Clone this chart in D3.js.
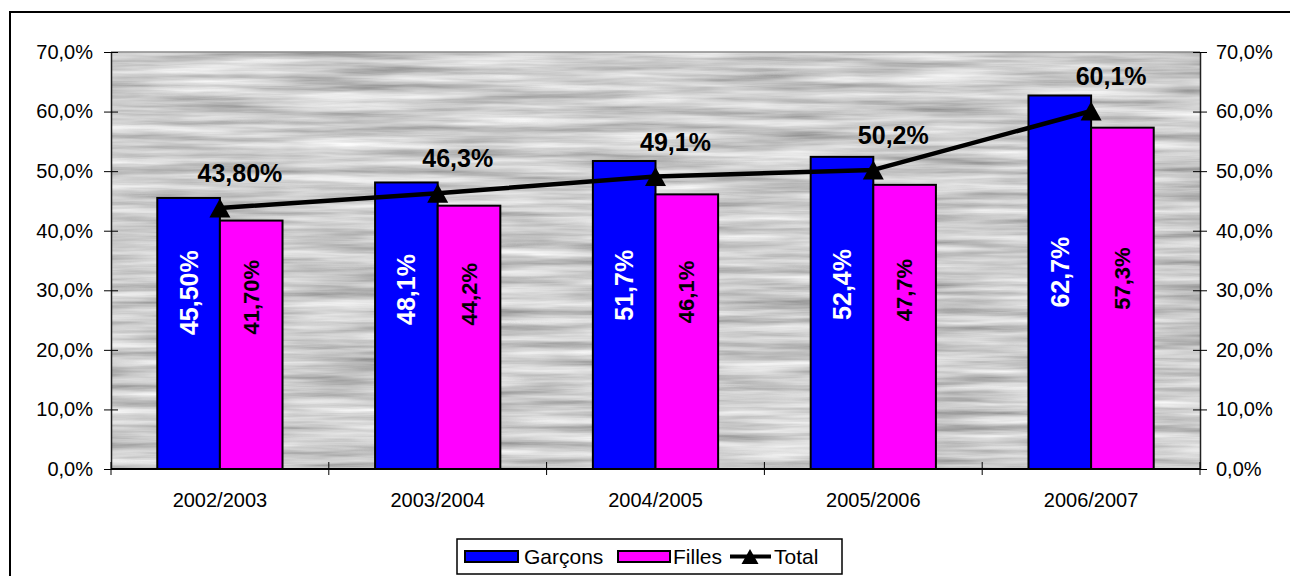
<!DOCTYPE html>
<html>
<head>
<meta charset="utf-8">
<script src="https://cdn.jsdelivr.net/npm/d3@7"></script>
<style>
  html, body { margin: 0; padding: 0; background: #fff; }
  svg { display: block; font-family: Arial, "Liberation Sans", sans-serif; }
</style>
</head>
<body>
<svg id="chart" width="1290" height="576"></svg>
<script>
// ---- data ----
const categories = ["2002/2003", "2003/2004", "2004/2005", "2005/2006", "2006/2007"];
const garcons = [45.5, 48.1, 51.7, 52.4, 62.7];
const filles = [41.7, 44.2, 46.1, 47.7, 57.3];
const total = [43.8, 46.3, 49.1, 50.2, 60.1];
const garconsLabels = ["45,50%", "48,1%", "51,7%", "52,4%", "62,7%"];
const fillesLabels = ["41,70%", "44,2%", "46,1%", "47,7%", "57,3%"];
const totalLabels = ["43,80%", "46,3%", "49,1%", "50,2%", "60,1%"];
const yTicks = [0, 10, 20, 30, 40, 50, 60, 70];
const yTickLabels = ["0,0%", "10,0%", "20,0%", "30,0%", "40,0%", "50,0%", "60,0%", "70,0%"];
const seriesNames = ["Garçons", "Filles", "Total"];

// ---- layout ----
const svg = d3.select("#chart");
const plot = { left: 111, right: 1200, top: 52, bottom: 469 };
const BLUE = "#0000ff", PINK = "#ff00ff";

// outer frame
svg.append("rect").attr("x", 10).attr("y", 12).attr("width", 1300).attr("height", 600)
  .attr("fill", "none").attr("stroke", "#000").attr("stroke-width", 2);

// texture filter for plot background
const defs = svg.append("defs");
const f = defs.append("filter").attr("id", "wood").attr("x", 0).attr("y", 0)
  .attr("width", "100%").attr("height", "100%");
f.append("feTurbulence").attr("type", "fractalNoise")
  .attr("baseFrequency", "0.007 0.12").attr("numOctaves", 4).attr("seed", 11).attr("result", "noise");
f.append("feColorMatrix").attr("in", "noise").attr("type", "matrix")
  .attr("values", "0.85 0 0 0 0.19  0.85 0 0 0 0.19  0.85 0 0 0 0.19  0 0 0 0 1");

const x = d3.scaleBand().domain(categories).range([plot.left, plot.right]);
const y = d3.scaleLinear().domain([0, 70]).range([plot.bottom, plot.top]);
const barW = x.bandwidth() * 0.2875;

// background
svg.append("rect").attr("x", plot.left).attr("y", plot.top)
  .attr("width", plot.right - plot.left).attr("height", plot.bottom - plot.top)
  .attr("fill", "#a0a0a0").attr("filter", "url(#wood)");
svg.append("line").attr("x1", plot.left).attr("x2", plot.right).attr("y1", plot.top).attr("y2", plot.top)
  .attr("stroke", "#8a8a8a").attr("stroke-width", 1.5);

// axes
const yLeft = d3.axisLeft(y).tickValues(yTicks).tickFormat((d, i) => yTickLabels[i]).tickSizeInner(7).tickSizeOuter(0).tickPadding(11);
const yRight = d3.axisRight(y).tickValues(yTicks).tickFormat((d, i) => yTickLabels[i]).tickSizeInner(7).tickSizeOuter(0).tickPadding(9);
const gL = svg.append("g").attr("transform", `translate(${plot.left},0)`).call(yLeft);
const gR = svg.append("g").attr("transform", `translate(${plot.right},0)`).call(yRight);
[gL, gR].forEach(g => {
  g.select(".domain").attr("stroke", "#222").attr("stroke-width", 1.5);
  g.selectAll(".tick text").attr("font-size", 20).attr("fill", "#000").attr("font-family", "Arial, 'Liberation Sans', sans-serif");
  g.selectAll(".tick line").attr("stroke", "#000");
});
gL.selectAll(".tick line").attr("x1", 7);
gR.selectAll(".tick line").attr("x1", -7);

// category axis
const gX = svg.append("g").attr("transform", `translate(0,${plot.bottom})`);
gX.append("line").attr("x1", plot.left).attr("x2", plot.right).attr("stroke", "#000").attr("stroke-width", 2);
const boundaries = categories.map(c => x(c)).concat([plot.right]);
gX.selectAll(".ct").data(boundaries).join("line")
  .attr("x1", d => d).attr("x2", d => d).attr("y1", -7).attr("y2", 6)
  .attr("stroke", "#000").attr("stroke-width", 1);
gX.selectAll(".cl").data(categories).join("text")
  .attr("x", d => x(d) + x.bandwidth() / 2).attr("y", 38)
  .attr("text-anchor", "middle").attr("font-size", 20).text(d => d);

// bars
const center = c => x(c) + x.bandwidth() / 2;
svg.append("g").selectAll("rect").data(categories).join("rect")
  .attr("x", c => center(c) - barW).attr("width", barW)
  .attr("y", (c, i) => y(garcons[i])).attr("height", (c, i) => y(0) - y(garcons[i]))
  .attr("fill", BLUE).attr("stroke", "#000").attr("stroke-width", 2);
svg.append("g").selectAll("rect").data(categories).join("rect")
  .attr("x", c => center(c)).attr("width", barW)
  .attr("y", (c, i) => y(filles[i])).attr("height", (c, i) => y(0) - y(filles[i]))
  .attr("fill", PINK).attr("stroke", "#000").attr("stroke-width", 2);

// bar labels (rotated)
const labelY = v => y(0.2 * v + 20.5);
svg.append("g").selectAll("text").data(categories).join("text")
  .attr("transform", (c, i) => `translate(${center(c) - barW / 2},${labelY(garcons[i])}) rotate(-90)`)
  .attr("text-anchor", "middle").attr("dominant-baseline", "central")
  .attr("font-size", 25).attr("font-weight", "bold").attr("fill", "#fff")
  .text((c, i) => garconsLabels[i]);
svg.append("g").selectAll("text").data(categories).join("text")
  .attr("transform", (c, i) => `translate(${center(c) + barW / 2},${labelY(filles[i])}) rotate(-90)`)
  .attr("text-anchor", "middle").attr("dominant-baseline", "central")
  .attr("font-size", 22).attr("font-weight", "bold").attr("fill", "#000")
  .text((c, i) => fillesLabels[i]);

// total line
const line = d3.line().x((d, i) => center(categories[i])).y(d => y(d));
svg.append("path").datum(total).attr("d", line)
  .attr("fill", "none").attr("stroke", "#000").attr("stroke-width", 4.5).attr("stroke-linejoin", "round");
const tri = (cx, cy, w, h) => `M${cx},${cy - h / 2}L${cx + w / 2},${cy + h / 2}L${cx - w / 2},${cy + h / 2}Z`;
svg.append("g").selectAll("path").data(total).join("path")
  .attr("d", (d, i) => tri(center(categories[i]), y(d), 21, 19)).attr("fill", "#000");
svg.append("g").selectAll("text").data(total).join("text")
  .attr("x", (d, i) => center(categories[i]) + 20).attr("y", d => y(d) - 26)
  .attr("text-anchor", "middle").attr("font-size", 25).attr("font-weight", "bold").attr("fill", "#000")
  .text((d, i) => totalLabels[i]);

// legend
const lg = svg.append("g");
lg.append("rect").attr("x", 457).attr("y", 539).attr("width", 385).attr("height", 35)
  .attr("fill", "#fff").attr("stroke", "#000").attr("stroke-width", 1.5);
const ly = 556.5;
lg.append("rect").attr("x", 465).attr("y", ly - 5.5).attr("width", 53).attr("height", 11)
  .attr("fill", BLUE).attr("stroke", "#000").attr("stroke-width", 2);
lg.append("text").attr("x", 524).attr("y", ly).attr("dominant-baseline", "central").attr("font-size", 21).text(seriesNames[0]);
lg.append("rect").attr("x", 618).attr("y", ly - 5.5).attr("width", 52).attr("height", 11)
  .attr("fill", PINK).attr("stroke", "#000").attr("stroke-width", 2);
lg.append("text").attr("x", 673).attr("y", ly).attr("dominant-baseline", "central").attr("font-size", 21).text(seriesNames[1]);
lg.append("line").attr("x1", 730).attr("x2", 771).attr("y1", ly).attr("y2", ly).attr("stroke", "#000").attr("stroke-width", 4);
lg.append("path").attr("d", tri(750, ly, 17, 15)).attr("fill", "#000");
lg.append("text").attr("x", 774).attr("y", ly).attr("dominant-baseline", "central").attr("font-size", 21).text(seriesNames[2]);
</script>
</body>
</html>
